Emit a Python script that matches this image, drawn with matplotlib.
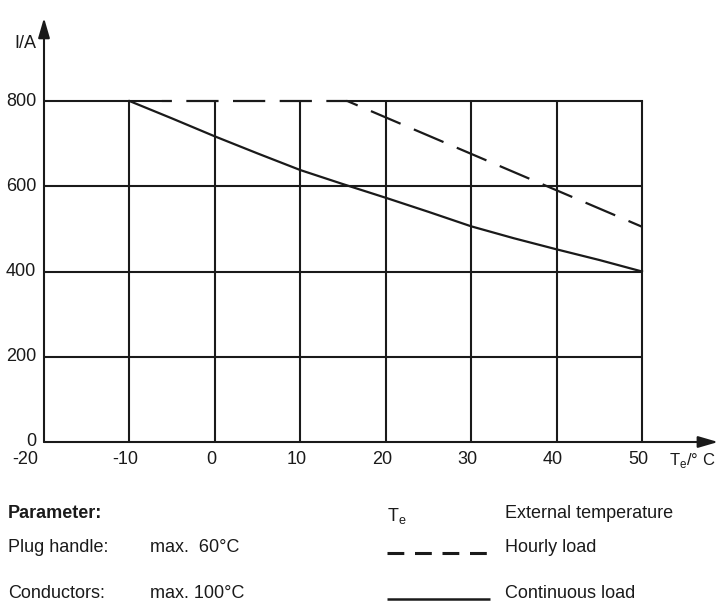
import matplotlib.pyplot as plt
from matplotlib.lines import Line2D

plt.rcParams['font.family'] = ['Liberation Sans', 'DejaVu Sans']

# data
x_ticks = [-20, -10, 0, 10, 20, 30, 40, 50]
y_ticks = [0, 200, 400, 600, 800]

cont_T = [-10, -5, 0, 5, 10, 15, 20, 25, 30, 35, 40, 45, 50]
cont_I = [800, 759, 717, 677, 638, 605, 573, 540, 506, 478, 452, 427, 400]

hourly_T = [-6.2, 15.5, 50]
hourly_I = [800, 800, 505]

xmin, xmax = -20, 50
ymin, ymax = 0, 800
lw = 1.5
col = '#1a1a1a'
fs = 13

fig = plt.figure(figsize=(7.18, 6.02), dpi=100)
ax = fig.add_axes([44/718, 160/602, 598/718, 341/602])
ax.set_xlim(xmin, xmax)
ax.set_ylim(ymin, ymax)
ax.axis('off')

# grid
for t in x_ticks[1:]:
    ax.plot([t, t], [ymin, ymax], color=col, lw=lw, solid_capstyle='butt', clip_on=False)
for v in y_ticks[1:-1]:
    ax.plot([xmin, xmax], [v, v], color=col, lw=lw, solid_capstyle='butt', clip_on=False)
# top line, broken where the hourly curve runs along it
ax.plot([xmin, hourly_T[0]], [ymax, ymax], color=col, lw=lw, solid_capstyle='butt', clip_on=False)
ax.plot([hourly_T[1], xmax], [ymax, ymax], color=col, lw=lw, solid_capstyle='projecting', clip_on=False)

# axes with arrows
arrow = dict(arrowstyle='-|>,head_length=1.2,head_width=0.35',
             color=col, lw=lw, shrinkA=0, shrinkB=0)
ax.annotate('', xy=(xmin, 995), xytext=(xmin, 0), annotation_clip=False, arrowprops=arrow)
ax.annotate('', xy=(58.9, 0), xytext=(xmin, 0), annotation_clip=False, arrowprops=arrow)

# curves
ax.plot(cont_T, cont_I, color=col, lw=1.6, clip_on=False)
ax.plot(hourly_T, hourly_I, color=col, lw=1.6, linestyle=(10, (14.5, 6.5)),
        dash_capstyle='butt', clip_on=False)

# tick labels
for t in x_ticks:
    xt = t - 0.45 if t > xmin else t - 2.2
    ax.text(xt, -20, str(t), ha='center', va='top', fontsize=fs, color=col)
for v in y_ticks:
    ax.text(xmin - 0.9, v, str(v), ha='right', va='center', fontsize=fs, color=col)
ax.text(xmin - 0.9, 935, 'I/A', ha='right', va='center', fontsize=fs, color=col)
ax.text(53.2, -20, r'T$_\mathregular{e}$/° C', ha='left', va='top', fontsize=12, color=col)

# legend / parameter block
def put(x, y, s, **kw):
    fig.text(x/718, 1 - y/602, s, fontsize=fs, va='center', color=col, **kw)

put(8, 513, 'Parameter:', fontweight='bold')
put(8, 548, 'Plug handle:')
put(8, 594, 'Conductors:')
put(150, 548, 'max.  60°C')
put(150, 594, 'max. 100°C')
put(387, 516, r'T$_\mathregular{e}$')
put(505, 513, 'External temperature')
put(505, 548, 'Hourly load')
put(505, 594, 'Continuous load')

fig.add_artist(Line2D([387/718, 490/718], [1 - 553/602, 1 - 553/602], color=col,
                     lw=2.2, linestyle=(0, (5.5, 3.5)), dash_capstyle='butt'))
fig.add_artist(Line2D([387/718, 490/718], [1 - 599/602, 1 - 599/602], color=col,
                     lw=1.8, solid_capstyle='butt'))

fig.savefig('out.png', dpi=100)
